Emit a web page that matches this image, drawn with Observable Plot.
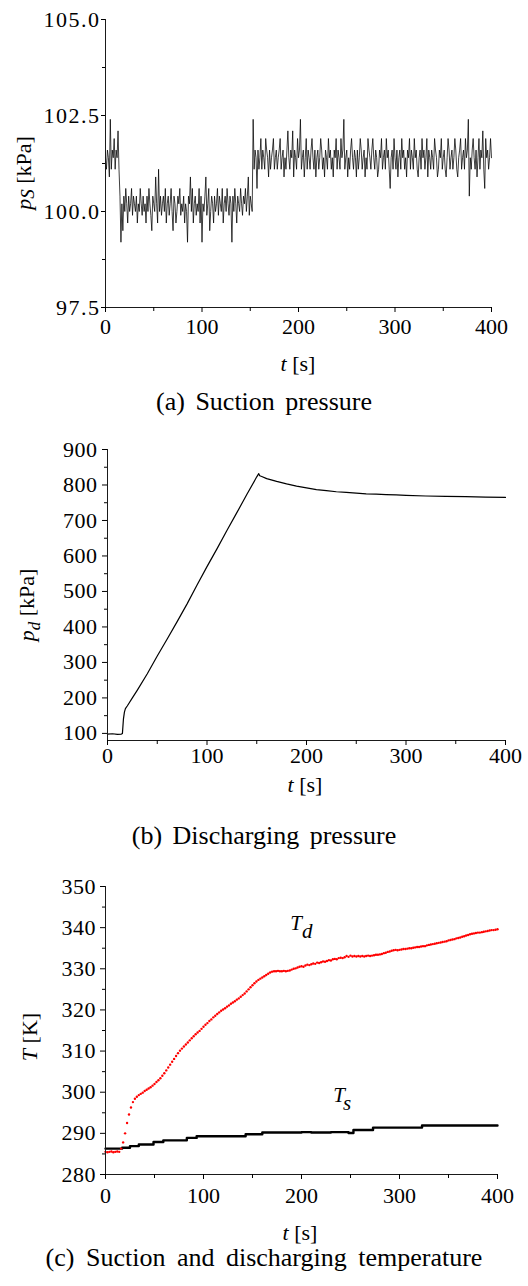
<!DOCTYPE html>
<html>
<head>
<meta charset="utf-8">
<script src="https://cdn.jsdelivr.net/npm/d3@7"></script>
<script src="https://cdn.jsdelivr.net/npm/@observablehq/plot@0.6"></script>
<style>
  body { margin: 0; background: #fff; }
  #page { position: relative; width: 528px; height: 1286px; font-family: "Liberation Serif", "Times New Roman", serif; color: #000; }
  #page svg { position: absolute; left: 0; }
  .caption { position: absolute; left: 0; width: 528px; text-align: center; font-size: 26px; line-height: 26px; white-space: nowrap; }
</style>
</head>
<body>
<div id="page"></div>
<script>
// ---- time axis ----
const timeTicks = [0, 100, 200, 300, 400];
const timeMinorTicks = [50, 150, 250, 350];

// ---- (a) suction pressure, logged every 1 s from 0 to 400 s [kPa] ----
const suctionStep = 1;
const suctionPressure = [
  101.4, 101.1, 101.6, 101.4, 100.9, 102.4, 101.1, 101.6, 101.4, 101.9, 101.1, 101.6, 101.4, 102.1, 101.1, 100.4, 99.2, 100.2, 99.5, 100.4,
  100.0, 100.6, 100.2, 99.7, 100.4, 100.0, 100.2, 100.6, 99.9, 100.4, 100.2, 100.0, 100.4, 99.7, 100.2, 100.0, 100.6, 100.2, 99.9, 100.4,
  100.0, 100.2, 99.7, 100.4, 100.0, 100.6, 100.2, 99.9, 99.5, 100.4, 100.2, 100.0, 100.9, 100.2, 99.7, 101.1, 100.0, 100.4, 99.9, 100.2,
  100.4, 100.0, 100.6, 99.7, 100.2, 100.4, 99.9, 100.2, 100.6, 100.0, 99.5, 100.4, 100.2, 99.7, 100.0, 100.4, 100.2, 100.6, 99.9, 100.2,
  100.0, 100.4, 99.7, 100.2, 100.0, 99.2, 100.4, 100.2, 100.9, 100.0, 100.6, 99.7, 100.2, 100.4, 99.9, 100.2, 100.0, 100.6, 99.7, 100.4,
  99.2, 100.2, 100.0, 100.4, 100.9, 99.9, 100.2, 100.6, 99.5, 100.0, 100.4, 100.2, 99.7, 100.4, 100.0, 100.2, 100.6, 99.9, 100.4, 100.2,
  100.0, 100.6, 99.7, 100.2, 100.4, 100.0, 100.6, 100.2, 99.9, 100.4, 100.2, 99.2, 100.4, 100.0, 100.6, 100.2, 99.7, 100.4, 100.2, 100.0,
  100.6, 100.2, 99.9, 100.4, 100.2, 100.6, 100.0, 100.4, 100.9, 99.9, 100.4, 100.2, 100.0, 102.4, 101.1, 101.6, 101.4, 100.6, 101.6, 101.1,
  101.4, 101.9, 101.1, 101.6, 101.4, 101.1, 101.9, 101.6, 101.4, 100.9, 101.6, 101.1, 101.4, 101.6, 101.9, 101.1, 101.4, 101.6, 101.1, 101.4,
  101.6, 101.9, 101.1, 101.4, 101.6, 100.9, 101.4, 101.1, 101.6, 102.1, 101.4, 101.1, 101.6, 101.4, 102.1, 100.9, 101.6, 101.4, 101.1, 101.9,
  101.4, 101.6, 102.4, 101.1, 101.4, 101.6, 100.9, 101.4, 101.9, 101.1, 101.6, 101.4, 101.1, 101.6, 101.9, 101.4, 101.1, 101.6, 100.9, 101.4,
  101.6, 101.1, 101.4, 101.9, 101.6, 101.1, 101.4, 100.9, 101.6, 101.4, 101.1, 101.9, 101.4, 101.6, 101.1, 101.4, 100.9, 101.6, 101.4, 101.9,
  101.1, 101.6, 101.4, 101.1, 101.9, 101.4, 101.6, 102.4, 101.1, 101.4, 101.6, 100.9, 101.4, 101.1, 101.6, 101.9, 101.4, 101.1, 101.6, 101.4,
  100.9, 101.6, 101.1, 101.4, 101.9, 101.6, 101.1, 101.4, 101.6, 100.9, 101.4, 101.1, 101.9, 101.6, 101.4, 101.1, 101.6, 101.9, 101.4, 101.1,
  101.6, 101.4, 100.9, 101.1, 101.6, 101.4, 101.9, 101.1, 101.4, 101.6, 101.1, 101.9, 101.4, 101.6, 101.1, 100.6, 101.4, 101.6, 101.1, 101.9,
  101.4, 101.1, 101.6, 100.9, 101.4, 101.6, 101.1, 101.9, 101.4, 101.6, 101.1, 101.4, 100.9, 101.6, 101.4, 101.9, 101.1, 101.6, 101.4, 101.1,
  101.9, 101.4, 101.6, 101.1, 100.9, 101.4, 101.6, 101.1, 101.9, 101.4, 101.6, 101.1, 101.4, 101.9, 100.9, 101.6, 101.4, 101.1, 101.6, 101.4,
  101.1, 101.9, 101.6, 101.4, 100.9, 101.1, 101.6, 101.4, 101.9, 101.1, 101.4, 101.6, 101.1, 100.9, 101.4, 101.9, 101.6, 101.1, 101.4, 101.6,
  101.1, 101.4, 101.9, 101.6, 101.1, 100.9, 101.4, 101.6, 101.9, 101.1, 101.4, 101.6, 101.1, 101.9, 101.4, 101.6, 102.4, 100.4, 101.4, 101.1,
  101.6, 101.9, 101.4, 101.1, 101.6, 100.9, 101.4, 101.9, 101.1, 101.6, 101.4, 102.1, 101.1, 100.6, 101.9, 101.4, 101.6, 101.1, 101.4, 101.9,
  101.4
];
const suctionTicks = [97.5, 100, 102.5, 105];
const suctionMinorTicks = [98.75, 101.25, 103.75];

// ---- (b) discharging pressure [kPa] ----
const dischargeTime = [0, 5, 10, 14, 15, 16, 17, 18, 20, 25, 30, 40, 50, 60, 70, 80, 90, 100,
  110, 120, 130, 140, 150, 152, 153, 155, 160, 170, 180, 190, 200, 210, 220, 230, 240, 250,
  260, 270, 280, 290, 300, 320, 340, 360, 380, 400];
const dischargePressure = [98, 99, 97, 98, 100, 140, 160, 170, 178, 200, 222, 268, 318, 366,
  415, 465, 518, 570, 620, 672, 722, 773, 823, 832, 826, 824, 818, 810, 803, 797, 792, 787,
  784, 781, 779, 777, 775, 774, 773, 772, 771, 769, 768, 767, 766, 765];
const dischargeTicks = [100, 200, 300, 400, 500, 600, 700, 800, 900];
const dischargeMinorTicks = [150, 250, 350, 450, 550, 650, 750, 850];

// ---- (c) discharging temperature T_d, logged every 2 s [K] ----
const tempStep = 2;
const dischargeTemp = [
  285.5, 285.4, 285.5, 285.6, 285.4, 285.5, 285.6, 285.5, 286.3, 287.8,
  290.0, 292.5, 294.6, 296.3, 297.6, 298.4, 298.9, 299.3, 299.6, 299.9,
  300.3, 300.6, 300.9, 301.2, 301.6, 302.0, 302.5, 302.9, 303.4, 304.0,
  304.6, 305.3, 306.0, 306.7, 307.4, 308.1, 308.8, 309.5, 310.1, 310.6,
  311.1, 311.6, 312.1, 312.6, 313.1, 313.6, 314.1, 314.5, 314.9, 315.4,
  315.9, 316.4, 316.8, 317.3, 317.7, 318.2, 318.6, 319.0, 319.4, 319.8,
  320.1, 320.4, 320.8, 321.1, 321.5, 321.8, 322.1, 322.5, 322.8, 323.2,
  323.6, 324.0, 324.5, 325.0, 325.5, 326.0, 326.5, 326.9, 327.3, 327.6,
  327.9, 328.2, 328.5, 328.8, 329.1, 329.3, 329.4, 329.4, 329.5, 329.4,
  329.4, 329.5, 329.4, 329.5, 329.6, 329.8, 330.0, 330.1, 330.3, 330.5,
  330.6, 330.5, 330.8, 331.0, 330.9, 331.1, 331.3, 331.2, 331.5, 331.4,
  331.6, 331.8, 331.7, 331.9, 332.1, 332.0, 332.3, 332.4, 332.3, 332.6,
  332.7, 332.6, 332.8, 333.1, 332.9, 333.2, 333.0, 333.1, 333.0, 333.1,
  333.0, 333.1, 333.0, 333.1, 333.2, 333.1, 333.2, 333.3, 333.4, 333.4,
  333.5, 333.6, 333.8, 333.9, 334.1, 334.2, 334.4, 334.5, 334.6, 334.5,
  334.6, 334.7, 334.8, 334.8, 334.9, 335.0, 335.0, 335.1, 335.2, 335.3,
  335.3, 335.4, 335.5, 335.5, 335.7, 335.8, 335.9, 336.0, 336.1, 336.2,
  336.3, 336.4, 336.5, 336.6, 336.7, 336.9, 337.0, 337.1, 337.2, 337.4,
  337.5, 337.6, 337.8, 337.9, 338.1, 338.2, 338.4, 338.5, 338.6, 338.7,
  338.8, 338.8, 338.9, 339.0, 339.1, 339.2, 339.3, 339.4, 339.4, 339.5,
  339.6
];
// suction temperature T_s, stepped sensor readings [K]
const suctionTempTime = [0, 17, 25, 34, 49, 59, 83, 93, 143, 160, 200, 210, 230, 248, 253, 273, 323, 400];
const suctionTemp = [286.3, 286.5, 286.9, 287.3, 287.9, 288.3, 288.9, 289.3, 289.8, 290.2,
  290.3, 290.2, 290.3, 290.1, 290.8, 291.4, 291.9, 291.9];
const tempTicks = [280, 290, 300, 310, 320, 330, 340, 350];
const tempMinorTicks = [285, 295, 305, 315, 325, 335, 345];
const curveLabels = [
  {main: "T", sub: "d", t: 189, value: 339.3},
  {main: "T", sub: "s", t: 233, value: 297.6}
];

// ---- tables built from the arrays ----
const suctionRows = suctionPressure.map((p, i) => ({t: i * suctionStep, p}));
const dischargeRows = dischargeTime.map((t, i) => ({t, p: dischargePressure[i]}));
const tdRows = dischargeTemp.map((T, i) => ({t: i * tempStep, T}));
const tsRows = suctionTempTime.map((t, i) => ({t, T: suctionTemp[i]}));

const page = document.getElementById("page");
const FONT = '"Liberation Serif", "Times New Roman", serif';

function addText(g, x, y, parts, opts = {}) {
  const el = g.append("text")
    .attr("transform", `translate(${x},${y})` + (opts.rotate ? " rotate(-90)" : ""))
    .attr("text-anchor", opts.anchor || "middle")
    .attr("font-size", opts.size || 22)
    .attr("fill", "#000");
  let shift = 0;
  for (const p of parts) {
    const s = el.append("tspan").text(p.text);
    if (p.italic) s.attr("font-style", "italic");
    const target = p.sub ? (p.drop || 5) : 0;
    if (target !== shift) { s.attr("dy", target - shift); shift = target; }
    if (p.size) s.attr("font-size", p.size);
  }
  return el;
}

function panel(o) {
  const svg = Plot.plot({
    width: 528,
    height: o.height,
    marginTop: o.mt, marginRight: o.mr, marginBottom: o.mb, marginLeft: o.ml,
    x: {domain: [0, 400]},
    y: {domain: o.yDomain},
    style: {fontFamily: FONT, fontSize: "22px", color: "#000", background: "transparent", overflow: "visible"},
    marks: [
      ...o.marks,
      Plot.ruleX([0], {stroke: "#1a1a1a", strokeWidth: 1}),
      Plot.ruleY([o.yDomain[0]], {stroke: "#1a1a1a", strokeWidth: 1}),
      Plot.axisX({ticks: timeTicks, tickSize: 5, tickPadding: o.xPad, label: null, fontSize: 22}),
      Plot.axisX({ticks: timeMinorTicks, tickSize: 4, text: null, label: null}),
      Plot.axisY({ticks: o.yTicks, tickSize: o.yTickSize || 5, tickPadding: o.yPad, tickFormat: o.yFormat, label: null, fontSize: 22}),
      Plot.axisY({ticks: o.yMinor, tickSize: 3, text: null, label: null})
    ]
  });
  svg.style.top = o.top + "px";
  page.appendChild(svg);
  const g = d3.select(svg);
  g.selectAll('[aria-label="y-axis tick label"] text').attr("letter-spacing", o.ySpacing || 0.5);
  addText(g, o.yLabelX, o.yLabelY, o.yLabel, {rotate: true});
  addText(g, o.xLabelX, o.xLabelY, [{text: "t", italic: true}, {text: " [s]"}]);
  const cap = document.createElement("div");
  cap.className = "caption";
  cap.style.top = o.captionTop + "px";
  cap.style.wordSpacing = o.captionSpacing + "px";
  cap.textContent = o.caption;
  page.appendChild(cap);
  return svg;
}

// (a) Suction pressure
panel({
  top: 0, height: 385, mt: 19, mr: 37, mb: 78, ml: 105,
  yDomain: [97.5, 105], yTicks: suctionTicks, yMinor: suctionMinorTicks,
  yFormat: d3.format(".1f"), yPad: 1, yTickSize: 4, ySpacing: 1.5, xPad: 6,
  marks: [Plot.line(suctionRows, {x: "t", y: "p", stroke: "#000", strokeWidth: 0.75})],
  yLabel: [{text: "p", italic: true}, {text: "S", italic: true, sub: true, drop: 3, size: 19}, {text: " [kPa]"}],
  yLabelX: 31, yLabelY: 173,
  xLabelX: 298, xLabelY: 371,
  caption: "(a) Suction pressure", captionTop: 389, captionSpacing: 4
});

// (b) Discharging pressure
panel({
  top: 400, height: 410, mt: 49, mr: 23, mb: 70, ml: 107,
  yDomain: [80, 900], yTicks: dischargeTicks, yMinor: dischargeMinorTicks,
  yFormat: d3.format("d"), yPad: 5, xPad: 2,
  marks: [Plot.line(dischargeRows, {x: "t", y: "p", stroke: "#000", strokeWidth: 1.2})],
  yLabel: [{text: "p", italic: true}, {text: "d", italic: true, sub: true, drop: 6, size: 17}, {text: " [kPa]"}],
  yLabelX: 34, yLabelY: 205,
  xLabelX: 305, xLabelY: 392,
  caption: "(b) Discharging pressure", captionTop: 823, captionSpacing: 4
});

// (c) Suction and discharging temperature
const svgC = panel({
  top: 860, height: 390, mt: 26, mr: 31, mb: 76, ml: 105,
  yDomain: [280, 350], yTicks: tempTicks, yMinor: tempMinorTicks,
  yFormat: d3.format("d"), yPad: 4.5, xPad: 8,
  marks: [
    Plot.line(tsRows, {x: "t", y: "T", curve: "step-after", stroke: "#000", strokeWidth: 2.4}),
    Plot.dot(tdRows, {x: "t", y: "T", r: 1.2, fill: "#ff0000", stroke: "none"})
  ],
  yLabel: [{text: "T", italic: true}, {text: " [K]"}],
  yLabelX: 37, yLabelY: 177,
  xLabelX: 300, xLabelY: 380,
  caption: "(c) Suction and discharging temperature", captionTop: 1245, captionSpacing: 5
});

// curve name annotations placed through the panel's scales
const gc = d3.select(svgC);
const sx = svgC.scale("x"), sy = svgC.scale("y");
for (const c of curveLabels) {
  addText(gc, sx.apply(c.t), sy.apply(c.value),
    [{text: c.main, italic: true}, {text: c.sub, italic: true, sub: true, drop: 8}],
    {anchor: "start", size: 21});
}
</script>
</body>
</html>
